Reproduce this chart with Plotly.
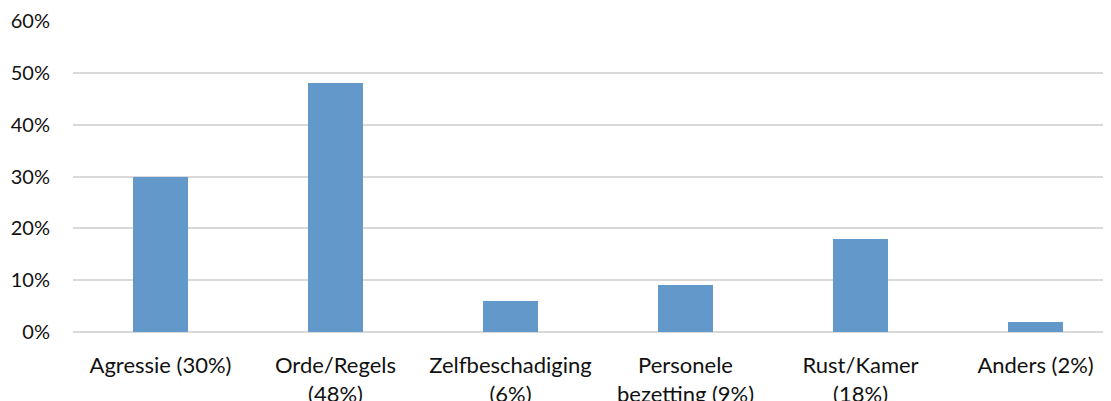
import plotly.graph_objects as go

categories = ["Agressie (30%)", "Orde/Regels<br>(48%)", "Zelfbeschadiging<br>(6%)",
              "Personele<br>bezetting (9%)", "Rust/Kamer<br>(18%)", "Anders (2%)"]
values = [0.30, 0.48, 0.06, 0.09, 0.18, 0.02]
y_ticks = [0, 0.1, 0.2, 0.3, 0.4, 0.5, 0.6]
y_tick_labels = ["0%", "10%", "20%", "30%", "40%", "50%", "60%"]

fig = go.Figure(go.Bar(
    x=list(range(len(categories))), y=values,
    marker=dict(color="#6398CB", line=dict(width=0)),
    width=0.314,
))

fig.update_layout(
    width=1111, height=401,
    margin=dict(l=65, r=8, t=13, b=77, autoexpand=False),
    paper_bgcolor="white", plot_bgcolor="white",
    font=dict(family="Lato", size=20, color="#111111"),
    showlegend=False,
    bargap=0,
)
fig.update_xaxes(
    tickmode="array", tickvals=list(range(len(categories))), ticktext=categories,
    range=[-0.5, 5.431], showgrid=False, zeroline=False, showline=False,
    ticks="", automargin=False, tickangle=0,
    tickfont=dict(size=22), ticklabelstandoff=18,
)
fig.update_yaxes(
    tickmode="array", tickvals=y_ticks, ticktext=y_tick_labels,
    range=[0, 0.6], showgrid=True, gridcolor="#D9D9D9", gridwidth=1.5,
    zeroline=True, zerolinecolor="#D9D9D9", zerolinewidth=1.5,
    showline=False, ticks="", automargin=False, ticklabelstandoff=22,
    tickfont=dict(size=20),
)

fig.write_html("out.html")
